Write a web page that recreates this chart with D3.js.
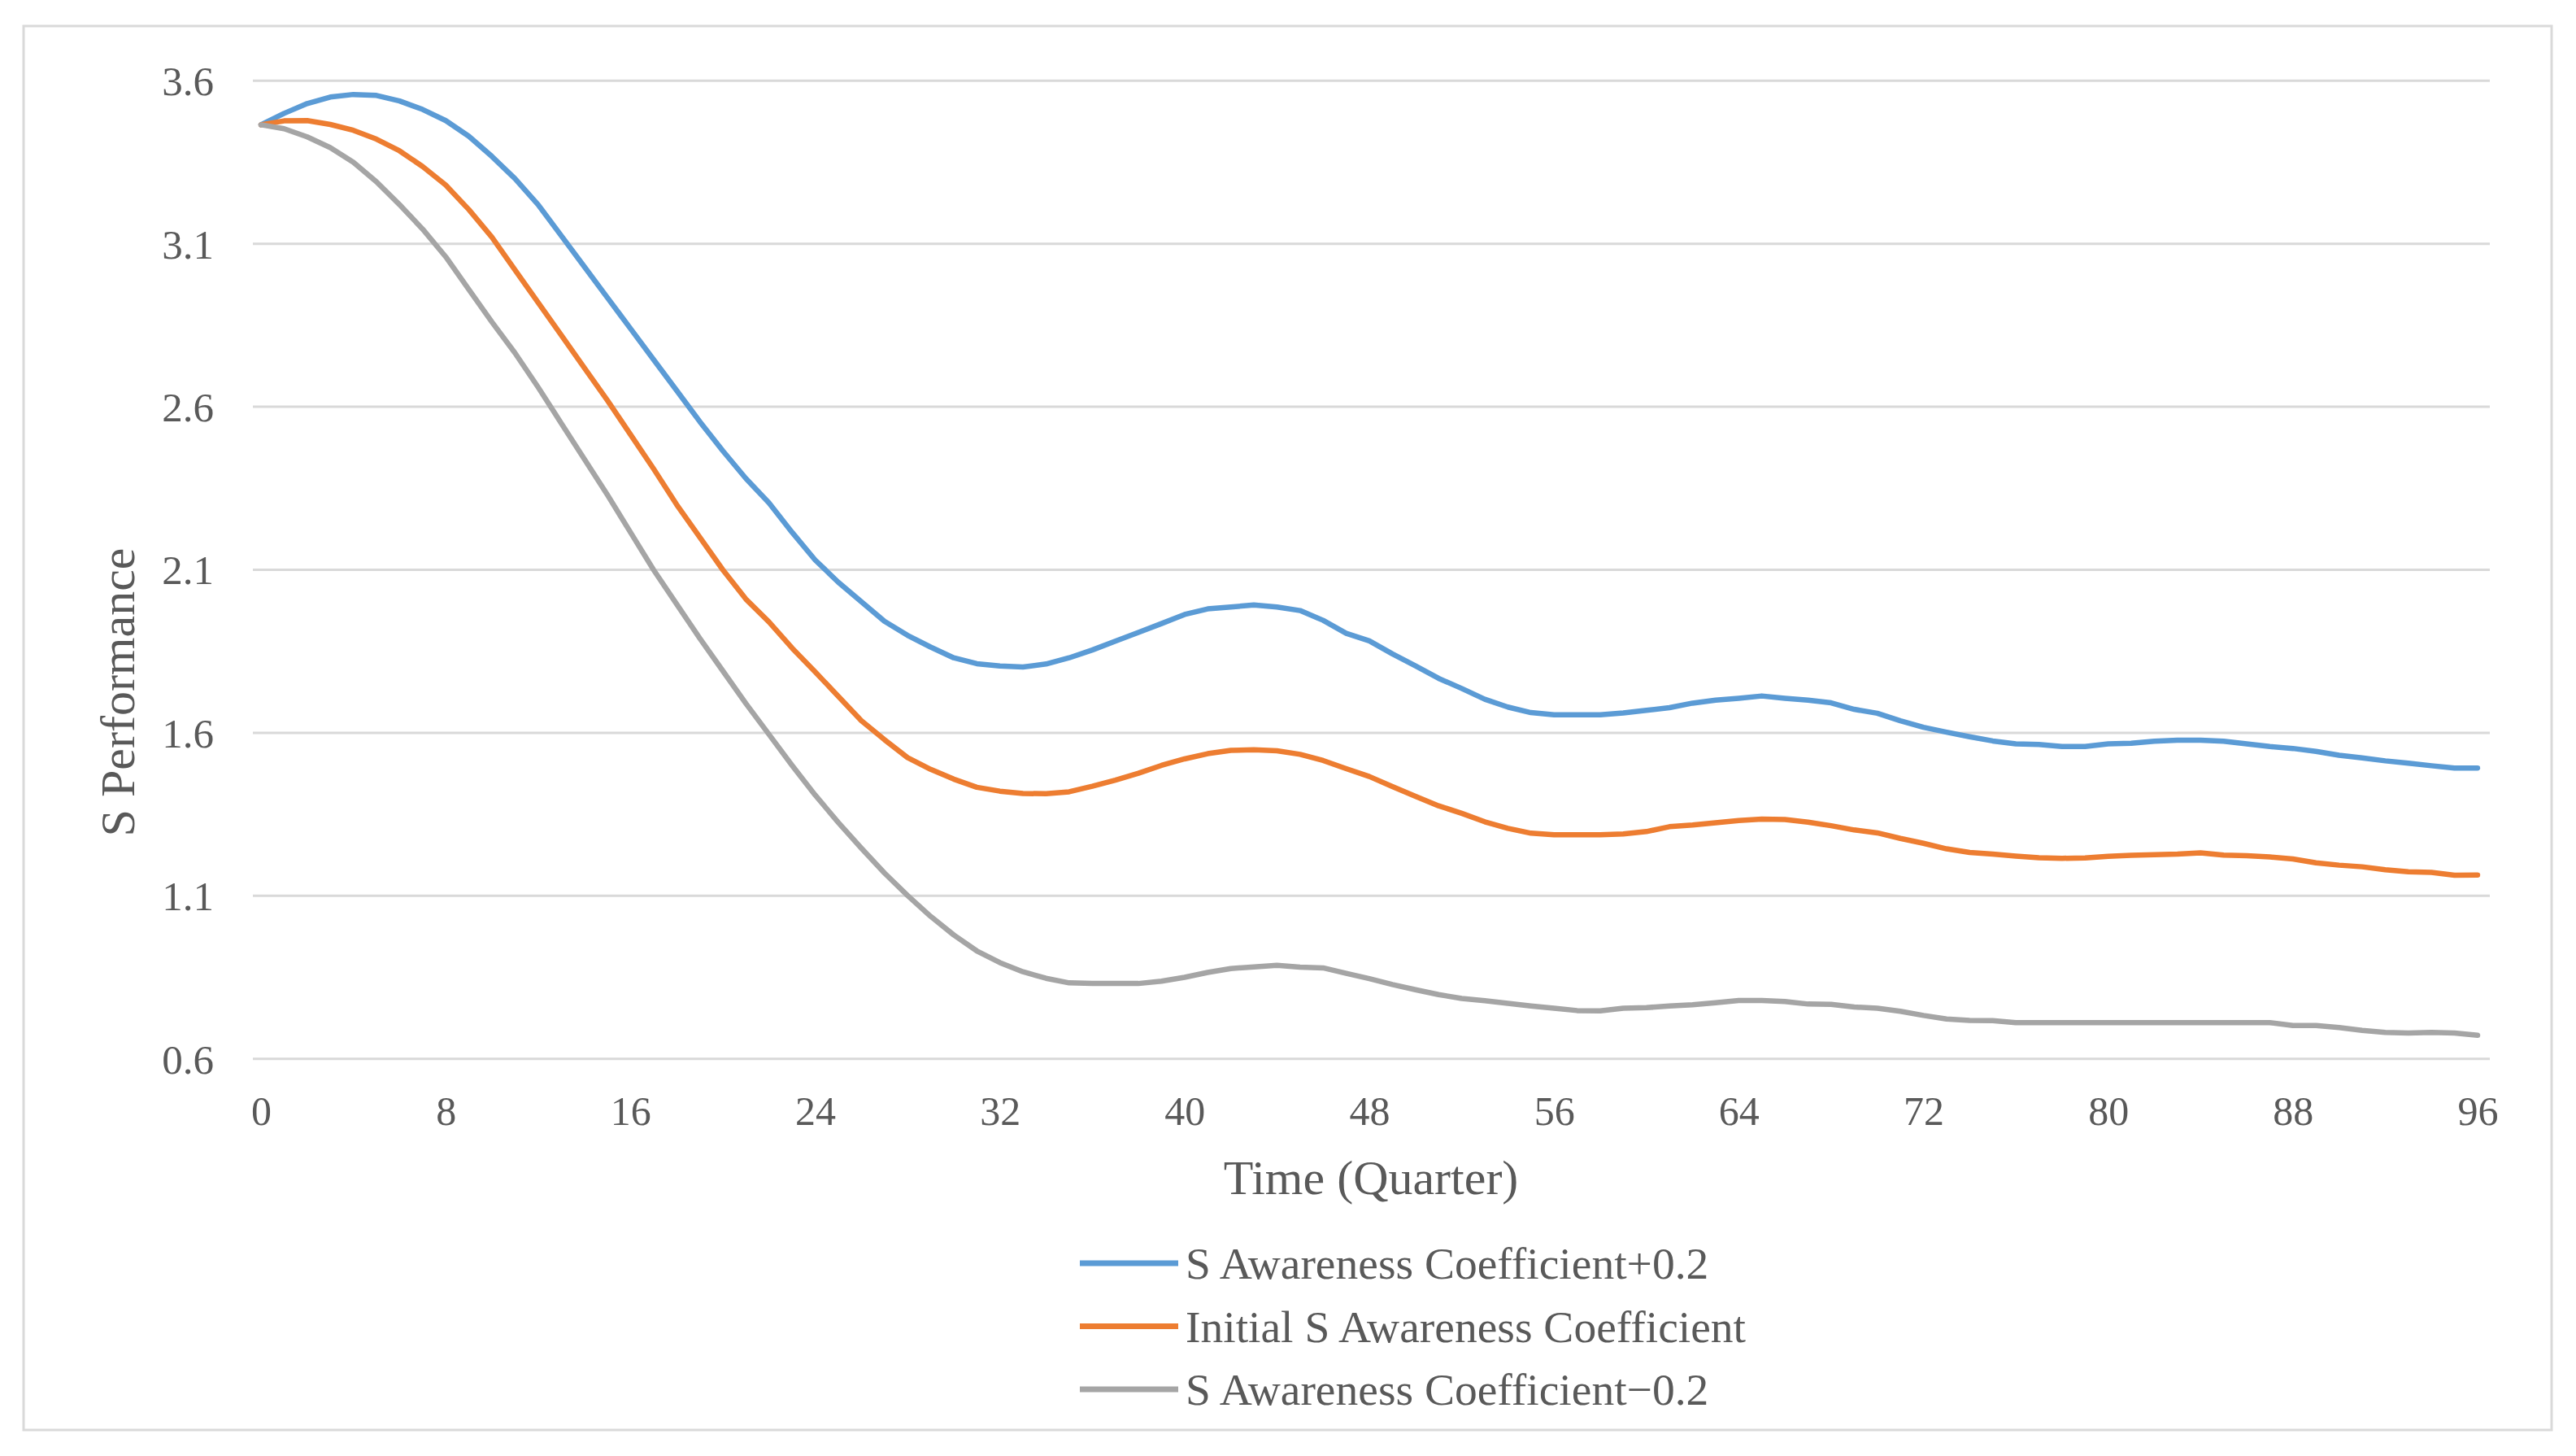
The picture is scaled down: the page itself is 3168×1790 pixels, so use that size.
<!DOCTYPE html>
<html>
<head>
<meta charset="utf-8">
<script src="https://cdn.jsdelivr.net/npm/d3@7/dist/d3.min.js"></script>
<style>
  html, body { margin: 0; padding: 0; background: #ffffff; }
  svg { display: block; }
  text { font-family: "Liberation Serif", "Times New Roman", "DejaVu Serif", serif; fill: #595959; }
</style>
</head>
<body>
<svg id="chart" width="3168" height="1790"></svg>
<script>
// ---------------- data ----------------
const quarters = d3.range(0, 97); // 0..96
const xTickLabels = [0, 8, 16, 24, 32, 40, 48, 56, 64, 72, 80, 88, 96];
const yTickLabels = [0.6, 1.1, 1.6, 2.1, 2.6, 3.1, 3.6];

const seriesNames = [
  "S Awareness Coefficient+0.2",
  "Initial S Awareness Coefficient",
  "S Awareness Coefficient\u22120.2"
];

const plusValues = [
  3.465, 3.50, 3.53, 3.55, 3.558, 3.555, 3.538, 3.512, 3.478, 3.43,
  3.368, 3.30, 3.22, 3.125, 3.03, 2.935, 2.84, 2.745, 2.65, 2.555,
  2.465, 2.38, 2.305, 2.215, 2.13, 2.062, 2.002, 1.942, 1.899, 1.863,
  1.83, 1.812, 1.805, 1.802, 1.811, 1.83, 1.854, 1.881, 1.908, 1.935,
  1.963, 1.98, 1.986, 1.992, 1.986, 1.975, 1.945, 1.905, 1.882, 1.842,
  1.805, 1.767, 1.736, 1.703, 1.679, 1.662, 1.655, 1.655, 1.655, 1.661,
  1.669, 1.677, 1.691, 1.70, 1.706, 1.713, 1.706, 1.70, 1.692, 1.672,
  1.66, 1.637, 1.617, 1.602, 1.588, 1.575, 1.566, 1.564, 1.558, 1.558,
  1.566, 1.568, 1.574, 1.577, 1.577, 1.574, 1.566, 1.558, 1.552, 1.543,
  1.531, 1.523, 1.514, 1.507, 1.499, 1.492, 1.492
];

const initialValues = [
  3.465, 3.477, 3.478, 3.466, 3.448, 3.421, 3.385, 3.337, 3.28, 3.205,
  3.12, 3.02, 2.92, 2.82, 2.72, 2.62, 2.515, 2.41, 2.30, 2.20,
  2.10, 2.01, 1.94, 1.86, 1.787, 1.712, 1.637, 1.579, 1.524, 1.488,
  1.458, 1.433, 1.421, 1.414, 1.413, 1.419, 1.436, 1.455, 1.476, 1.50,
  1.52, 1.536, 1.546, 1.548, 1.545, 1.534, 1.515, 1.49, 1.466, 1.435,
  1.405, 1.376, 1.353, 1.327, 1.307, 1.292, 1.287, 1.287, 1.287, 1.29,
  1.297, 1.312, 1.317, 1.324, 1.331, 1.335, 1.334, 1.326, 1.315, 1.302,
  1.293, 1.276, 1.261, 1.244, 1.233, 1.228, 1.222, 1.217, 1.215, 1.216,
  1.221, 1.224, 1.226, 1.228, 1.232, 1.225, 1.223, 1.219, 1.213, 1.201,
  1.194, 1.189, 1.18, 1.174, 1.172, 1.163, 1.164
];

const minusValues = [
  3.465, 3.453, 3.428, 3.395, 3.35, 3.29, 3.22, 3.145, 3.06, 2.96,
  2.86, 2.765, 2.66, 2.55, 2.44, 2.33, 2.215, 2.10, 1.995, 1.89,
  1.79, 1.69, 1.595, 1.50, 1.409, 1.325, 1.246, 1.17, 1.101, 1.037,
  0.98, 0.931, 0.895, 0.867, 0.847, 0.833, 0.831, 0.831, 0.831, 0.838,
  0.85, 0.865, 0.877, 0.882, 0.887, 0.881, 0.879, 0.862, 0.846, 0.828,
  0.812, 0.797, 0.785, 0.778, 0.77, 0.762, 0.755, 0.748, 0.747, 0.755,
  0.757, 0.762, 0.766, 0.772, 0.779, 0.779, 0.776, 0.768, 0.767, 0.759,
  0.755, 0.746, 0.733, 0.722, 0.718, 0.717, 0.711, 0.711, 0.711, 0.711,
  0.711, 0.711, 0.711, 0.711, 0.711, 0.711, 0.711, 0.711, 0.702, 0.702,
  0.696, 0.687, 0.681, 0.679, 0.681, 0.679, 0.672
];

const seriesColors = ["#5B9BD5", "#ED7D31", "#A5A5A5"];
const seriesValues = [plusValues, initialValues, minusValues];

// ---------------- layout ----------------
const svg = d3.select("#chart");
const W = 3168, H = 1790;
const plotLeft = 311, plotRight = 3062;

svg.append("rect").attr("x", 0).attr("y", 0).attr("width", W).attr("height", H).attr("fill", "#ffffff");
// outer chart border
svg.append("rect")
  .attr("x", 29).attr("y", 32).attr("width", 3138 - 29).attr("height", 1758 - 32)
  .attr("fill", "none").attr("stroke", "#d9d9d9").attr("stroke-width", 3);

const x = d3.scaleLinear().domain([0, 96]).range([321, 3047]);
const y = d3.scaleLinear().domain([0.6, 3.6]).range([1301.7, 99.3]);

// gridlines
svg.append("g").selectAll("line").data(yTickLabels).join("line")
  .attr("x1", plotLeft).attr("x2", plotRight)
  .attr("y1", d => y(d)).attr("y2", d => y(d))
  .attr("stroke", "#d9d9d9").attr("stroke-width", 3);

// y axis labels
const yAxis = d3.axisLeft(y).tickValues(yTickLabels).tickSize(0).tickPadding(0)
  .tickFormat(d3.format(".1f"));
const gy = svg.append("g").attr("transform", "translate(263,0)").call(yAxis);
gy.select(".domain").remove();
gy.selectAll("text")
  .attr("font-family", "'Liberation Serif', 'Times New Roman', serif")
  .attr("font-size", 51).attr("fill", "#595959").attr("dy", "0.34em");

// x axis labels
const xAxis = d3.axisBottom(x).tickValues(xTickLabels).tickSize(0).tickPadding(0)
  .tickFormat(d3.format("d"));
const gx = svg.append("g").attr("transform", "translate(0,1383)").call(xAxis);
gx.select(".domain").remove();
gx.selectAll("text")
  .attr("font-family", "'Liberation Serif', 'Times New Roman', serif")
  .attr("font-size", 50).attr("fill", "#595959").attr("dy", 0).attr("y", 0);

// axis titles
svg.append("text")
  .attr("x", 1686).attr("y", 1468)
  .attr("text-anchor", "middle").attr("font-size", 60)
  .text("Time (Quarter)");

svg.append("text")
  .attr("transform", "translate(165,851) rotate(-90)")
  .attr("text-anchor", "middle").attr("font-size", 60)
  .text("S Performance");

// lines
const line = d3.line()
  .x((d, i) => x(quarters[i]))
  .y(d => y(d))
  .curve(d3.curveLinear);

svg.append("g").selectAll("path").data(seriesValues).join("path")
  .attr("d", d => line(d))
  .attr("fill", "none")
  .attr("stroke", (d, i) => seriesColors[i])
  .attr("stroke-width", 6.5)
  .attr("stroke-linejoin", "round")
  .attr("stroke-linecap", "round");

// legend
const legendY = [1553, 1630.5, 1708];
const lg = svg.append("g");
const items = lg.selectAll("g").data(seriesNames).join("g")
  .attr("transform", (d, i) => `translate(0,${legendY[i]})`);
items.append("line")
  .attr("x1", 1328).attr("x2", 1449).attr("y1", 0).attr("y2", 0)
  .attr("stroke", (d, i) => seriesColors[i]).attr("stroke-width", 7);
items.append("text")
  .attr("x", 1458).attr("y", 19)
  .attr("font-size", 55.5)
  .text(d => d);
</script>
</body>
</html>
